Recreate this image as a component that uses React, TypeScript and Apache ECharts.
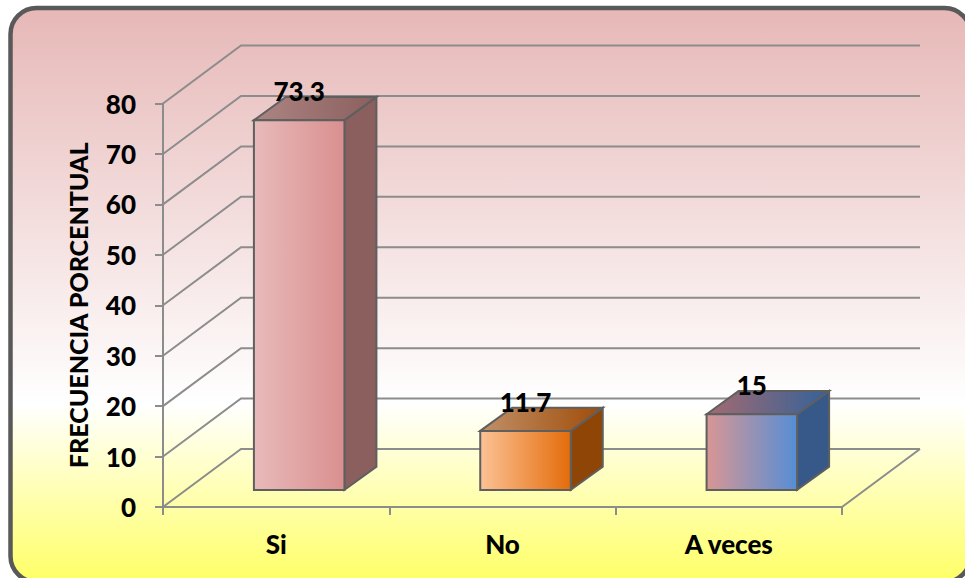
import React, { useEffect, useRef } from "react";
import * as echarts from "echarts";

const categories = ["Si", "No", "A veces"];
const values = [73.3, 11.7, 15];
const yTicks = [0, 10, 20, 30, 40, 50, 60, 70, 80];
const yTitle = "FRECUENCIA PORCENTUAL";

const frontColors = [
  ["#e8baba", "#da8f8f"],
  ["#fcc295", "#e46c0a"],
  ["#d99694", "#558ed5"],
];
const sideColors = ["#8b5f5e", "#8f4505", "#36598a"];
const topColors = [
  ["#ac8583", "#8b5f5e"],
  ["#c09068", "#a04c08"],
  ["#a56a70", "#33629a"],
];

const FONT = "Lato, 'Open Sans', sans-serif";
const DEPTH_X = 78;
const DEPTH_Y = 58;
const LINE = "#8c8c8c";
const EDGE = "#5f5f5f";

const grad = (c: string[], x2 = 1, y2 = 0) =>
  new echarts.graphic.LinearGradient(0, 0, x2, y2, [
    { offset: 0, color: c[0] },
    { offset: 1, color: c[1] },
  ]);

function renderWall(params: any, api: any) {
  const v = api.value(1);
  const cs = params.coordSys;
  const y = api.coord([0, v])[1];
  const left = cs.x;
  const right = cs.x + cs.width;
  const style = { fill: "none", stroke: LINE, lineWidth: 2 };
  const children: any[] = [
    {
      type: "polyline",
      shape: {
        points: [
          [left, y],
          [left + DEPTH_X, y - DEPTH_Y],
          [right + DEPTH_X, y - DEPTH_Y],
        ],
      },
      style,
    },
  ];
  if (v === 0) {
    children.push({
      type: "line",
      shape: { x1: right, y1: y, x2: right + DEPTH_X, y2: y - DEPTH_Y },
      style,
    });
  }
  return { type: "group", children };
}

function renderBar(params: any, api: any) {
  const i = api.value(0);
  const v = api.value(1);
  const base = api.coord([i, 0]);
  const top = api.coord([i, v]);
  const band = api.size([1, 0])[0];
  const w = band * 0.4;
  const dx = DEPTH_X * 0.41;
  const dy = DEPTH_Y * 0.4;
  const sx = DEPTH_X * 0.295;
  const sy = DEPTH_Y * 0.295;
  const x0 = base[0] - w / 2 + sx;
  const x1 = x0 + w;
  const yb = base[1] - sy;
  const yt = top[1] - sy;
  const edge = { stroke: EDGE, lineWidth: 2, lineJoin: "miter" };
  return {
    type: "group",
    children: [
      {
        type: "polygon",
        shape: { points: [[x1, yt], [x1 + dx, yt - dy], [x1 + dx, yb - dy], [x1, yb]] },
        style: { fill: sideColors[i], ...edge },
      },
      {
        type: "polygon",
        shape: { points: [[x0, yt], [x0 + dx, yt - dy], [x1 + dx, yt - dy], [x1, yt]] },
        style: { fill: grad(topColors[i], 1, 0), ...edge },
      },
      {
        type: "rect",
        shape: { x: x0, y: yt, width: w, height: yb - yt },
        style: { fill: grad(frontColors[i]), ...edge },
      },
      {
        type: "text",
        x: (x0 + x1) / 2,
        y: yt - 29,
        style: {
          text: String(v),
          fill: "#000",
          font: `900 26px ${FONT}`,
          align: "center",
          verticalAlign: "middle",
        },
      },
    ],
  };
}

export default function App() {
  const ref = useRef<HTMLDivElement>(null);
  useEffect(() => {
    document.body.style.margin = "0";
    const chart = echarts.init(ref.current!, null, { renderer: "svg" });
    const axisText = { color: "#000", fontFamily: FONT, fontWeight: 900 as const, fontSize: 26 };
    chart.setOption({
      animation: false,
      backgroundColor: "#fff",
      graphic: [
        {
          type: "rect",
          z: -10,
          silent: true,
          shape: { x: 10.5, y: 8, width: 960, height: 574, r: 26 },
          style: {
            fill: new echarts.graphic.LinearGradient(0, 0, 0, 1, [
              { offset: 0, color: "#e6b8b7" },
              { offset: 0.69, color: "#ffffff" },
              { offset: 1, color: "#ffff66" },
            ]),
            stroke: "#595959",
            lineWidth: 4.5,
          },
        },
      ],
      grid: { left: 163, right: 123, top: 103.5, bottom: 71 },
      xAxis: {
        type: "category",
        data: categories,
        axisLine: { lineStyle: { color: LINE, width: 2 } },
        axisTick: { show: true, length: 8, lineStyle: { color: LINE, width: 2 } },
        axisLabel: { ...axisText, fontSize: 26, margin: 24 },
        splitLine: { show: false },
      },
      yAxis: {
        type: "value",
        min: 0,
        max: 80,
        interval: 10,
        name: yTitle,
        nameLocation: "middle",
        nameGap: 73,
        nameTextStyle: { ...axisText, fontSize: 25 },
        axisLine: { show: true, lineStyle: { color: LINE, width: 2 } },
        axisTick: { show: true, length: 8, lineStyle: { color: LINE, width: 2 } },
        axisLabel: { ...axisText, margin: 27 },
        splitLine: { show: false },
      },
      series: [
        {
          type: "custom",
          name: "wall",
          z: 1,
          silent: true,
          clip: false,
          renderItem: renderWall,
          encode: { x: 0, y: 1 },
          data: yTicks.map((t) => [0, t]),
        },
        {
          type: "custom",
          name: "bars",
          z: 3,
          clip: false,
          renderItem: renderBar,
          encode: { x: 0, y: 1 },
          data: values.map((v, i) => [i, v]),
        },
      ],
    });
    return () => chart.dispose();
  }, []);
  return <div ref={ref} style={{ position: "fixed", left: 0, top: 0, width: 965, height: 578 }} />;
}
